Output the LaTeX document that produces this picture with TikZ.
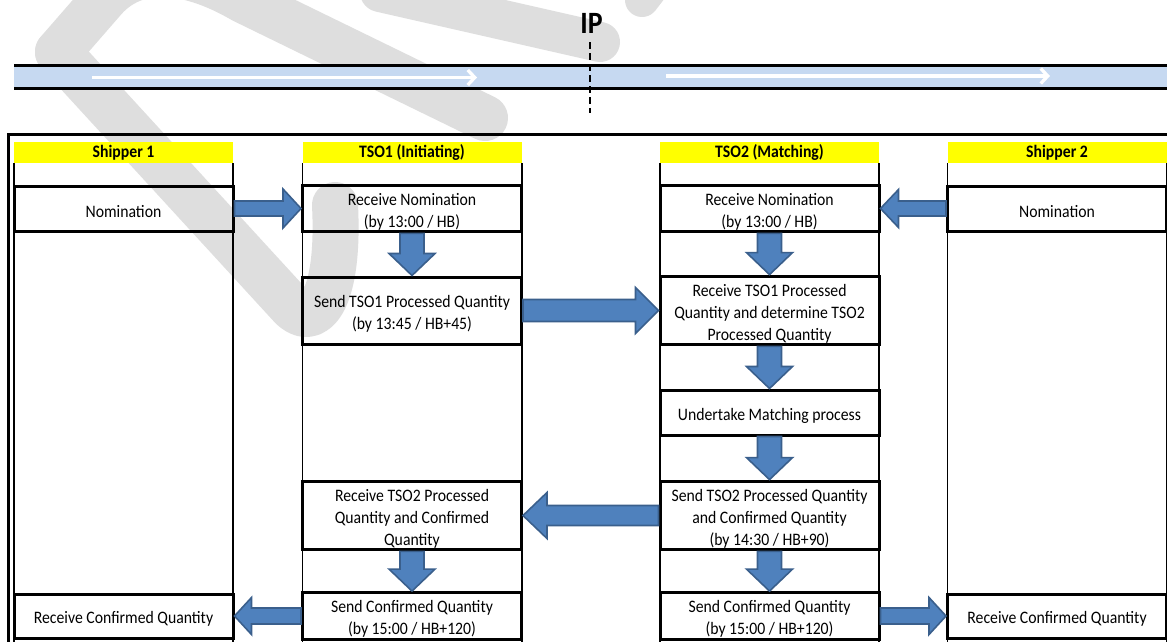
\documentclass[tikz,border=0pt]{standalone}
\usepackage{fontspec}
\setmainfont{Carlito}[FakeStretch=0.9]
\usetikzlibrary{calc,arrows.meta}
\definecolor{pipeblue}{RGB}{198,217,241}
\definecolor{arrowfill}{RGB}{79,129,189}
\definecolor{arrowedge}{RGB}{58,95,140}
\definecolor{hdryellow}{RGB}{255,255,0}
\definecolor{wmgray}{RGB}{222,222,222}
\newcommand{\mybody}{\fontsize{17.5}{22}\selectfont}
\newcommand{\myhdr}{\fontsize{17.5}{21}\selectfont\bfseries}
\newcommand{\fl}{\rule{0pt}{18pt}}
% horizontal block arrow: from, to, shaft half, head half, head length (signed)
\newcommand{\hblock}[5]{\draw[blockarr] let \p1=(#1), \p2=(#2) in
  (\x1,{\y1+#3}) -- ({\x2-(#5)},{\y1+#3}) -- ({\x2-(#5)},{\y1+#4}) -- (\x2,\y1)
  -- ({\x2-(#5)},{\y1-#4}) -- ({\x2-(#5)},{\y1-#3}) -- (\x1,{\y1-#3}) -- cycle;}
% vertical (downward) block arrow
\newcommand{\vblock}[5]{\draw[blockarr] let \p1=(#1), \p2=(#2) in
  ({\x1+#3},\y1) -- ({\x1+#3},{\y2+#5}) -- ({\x1+#4},{\y2+#5}) -- (\x1,\y2)
  -- ({\x1-#4},{\y2+#5}) -- ({\x1-#3},{\y2+#5}) -- ({\x1-#3},\y1) -- cycle;}
\begin{document}
\begin{tikzpicture}[x=1pt,y=-1pt,
  box/.style={draw, line width=3pt, minimum width=219pt, inner sep=2pt, align=center, font=\mybody},
  hdr/.style={fill=hdryellow, minimum width=219pt, minimum height=21pt, inner sep=0pt, font=\myhdr},
  lane/.style={line width=1.6pt},
  blockarr/.style={fill=arrowfill, draw=arrowedge, line width=1.6pt, line join=miter},
  wm/.style={draw=wmgray, line width=46pt, line cap=round, line join=round},
  flow/.style={white, line width=3.3pt, -{Straight Barb[length=7pt,width=15pt,line width=3.3pt]}},
  pipeline/.style={line width=2.7pt}]
\useasboundingbox (0,0) rectangle (1167,641);
\fill[white] (0,0) rectangle (1167,641);
% watermark
\draw[wm] (58,52) -- (290,305) .. controls (312,330) and (340,305) .. (335,205);
\draw[wm] (58,52) -- (105,-2) .. controls (140,-40) and (195,-28) .. (243,0) -- (485,118);
\draw[wm, line width=40pt] (380,-8) -- (600,42);
\draw[wm, line width=34pt] (665,-30) -- (642,0);
% pipeline
\fill[pipeblue] (14,65.3) rectangle (1167,88.8);
\draw[pipeline] (14,65.3) -- (1167,65.3);
\draw[pipeline] (14,88.8) -- (1167,88.8);
\coordinate (f1a) at (92,77.5);  \coordinate (f1b) at (477,77.5);
\coordinate (f2a) at (666,76);   \coordinate (f2b) at (1050,76);
\draw[flow] (f1a) -- (f1b);
\draw[flow] (f2a) -- (f2b);
\node[font=\fontsize{31}{31}\selectfont\bfseries, inner sep=0pt, anchor=base] (ip) at (591.5,33.3) {IP};
\coordinate (ipb) at (590,113);
\draw[line width=2pt, dash pattern=on 7pt off 4pt] (590,42) -- (ipb);
% outer frame
\draw[line width=3pt] (8,660) -- (8,134.5) -- (1180,134.5);
\coordinate (bot) at (0,660);
% headers
\node[hdr] (h1) at (123.5,152.5) {Shipper 1};
\node[hdr] (h2) at (412,152.5) {TSO1 (Initiating)};
\node[hdr] (h3) at (769.5,152.5) {TSO2 (Matching)};
\node[hdr] (h4) at (1057,152.5) {Shipper 2};
\foreach \h in {h1,h2,h3,h4}{
  \draw[lane] (\h.south west) -- (\h.south west |- bot);
  \draw[lane] (\h.south east) -- (\h.south east |- bot);
}
% boxes
\node[box, minimum height=45pt] (s1nom) at (123.5,208.5) {\fl Nomination};
\node[box, minimum height=45pt] (t1rn) at (412,208.5) {\fl Receive Nomination\\(by 13:00 / HB)};
\node[box, minimum height=45pt] (t2rn) at (769.5,208.5) {\fl Receive Nomination\\(by 13:00 / HB)};
\node[box, minimum height=45pt] (s2nom) at (1057,208.5) {\fl Nomination};
\node[box, minimum height=67pt] (t1sp) at (412,310.5) {\fl Send TSO1 Processed Quantity\\(by 13:45 / HB+45)};
\node[box, minimum height=67pt] (t2rp) at (769.5,310.5) {\fl Receive TSO1 Processed\\Quantity and determine TSO2\\Processed Quantity};
\node[box, minimum height=45pt] (t2um) at (769.5,412.5) {\fl Undertake Matching process};
\node[box, minimum height=67pt] (t2sp) at (769.5,515.5) {\fl Send TSO2 Processed Quantity\\and Confirmed Quantity\\(by 14:30 / HB+90)};
\node[box, minimum height=67pt] (t1rp) at (412,515.5) {\fl Receive TSO2 Processed\\Quantity and Confirmed\\Quantity};
\node[box, minimum height=44pt] (t1sc) at (412,616) {\fl Send Confirmed Quantity\\(by 15:00 / HB+120)};
\node[box, minimum height=44pt] (t2sc) at (769.5,616) {\fl Send Confirmed Quantity\\(by 15:00 / HB+120)};
\node[box, minimum height=44pt] (s1rc) at (123.5,616) {\fl Receive Confirmed Quantity};
\node[box, minimum height=44pt] (s2rc) at (1057,616) {\fl Receive Confirmed Quantity};
% block arrows
\hblock{s1nom.east}{t1rn.west}{7.5pt}{19.5pt}{18pt}
\hblock{s2nom.west}{t2rn.east}{7.5pt}{19pt}{-18pt}
\vblock{t1rn.south}{t1sp.north}{12pt}{23pt}{22pt}
\vblock{t2rn.south}{t2rp.north}{12pt}{23pt}{22pt}
\hblock{t1sp.east}{t2rp.west}{11pt}{23pt}{23pt}
\vblock{t2rp.south}{t2um.north}{12pt}{23pt}{22pt}
\vblock{t2um.south}{t2sp.north}{12pt}{23pt}{22pt}
\hblock{t2sp.west}{t1rp.east}{10pt}{23pt}{-24pt}
\vblock{t1rp.south}{t1sc.north}{12pt}{23pt}{22pt}
\vblock{t2sp.south}{t2sc.north}{12pt}{23pt}{22pt}
\hblock{t1sc.west}{s1rc.east}{8pt}{18.5pt}{-17pt}
\hblock{t2sc.east}{s2rc.west}{8pt}{18.5pt}{17pt}
\end{tikzpicture}
\end{document}
